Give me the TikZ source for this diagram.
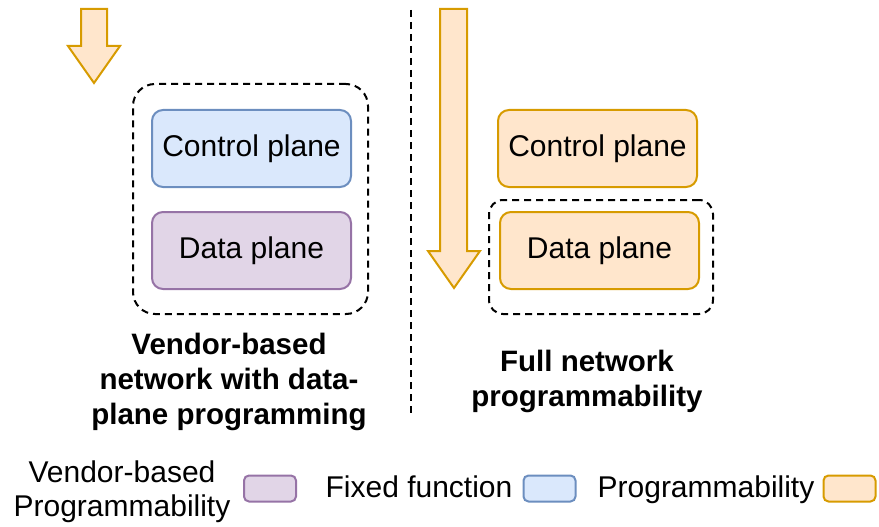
\documentclass[tikz,border=0pt]{standalone}
\usepackage{fontspec}
\setmainfont{Liberation Sans}
\definecolor{bluefill}{HTML}{DAE8FC}
\definecolor{bluedraw}{HTML}{6C8EBF}
\definecolor{purpfill}{HTML}{E1D5E7}
\definecolor{purpdraw}{HTML}{9673A6}
\definecolor{orfill}{HTML}{FFE6CC}
\definecolor{ordraw}{HTML}{D79B00}
\tikzset{
  plane/.style={rounded corners=11pt, line width=2pt, minimum width=199pt, minimum height=77pt, inner sep=0pt, font=\fontsize{30}{36}\selectfont},
  bluebox/.style={plane, fill=bluefill, draw=bluedraw},
  purpbox/.style={plane, fill=purpfill, draw=purpdraw},
  orbox/.style={plane, fill=orfill, draw=ordraw},
  groupbox/.style={draw=black, line width=2pt, dash pattern=on 7pt off 5pt, rounded corners=22pt, inner sep=0pt},
  blockarrow/.style={fill=orfill, draw=ordraw, line width=2pt, line join=miter},
  divider/.style={draw=black, line width=2pt, dash pattern=on 7pt off 5pt},
  title/.style={font=\fontsize{29.5}{35}\selectfont\bfseries, align=center, inner sep=0pt},
  legtext/.style={font=\fontsize{30}{34}\selectfont, align=center, inner sep=0pt},
  swatch/.style={rounded corners=5pt, line width=2pt, minimum width=52pt, minimum height=26pt, inner sep=0pt}
}
\begin{document}
\begin{tikzpicture}[x=1pt,y=-1pt]
\useasboundingbox (0,0) rectangle (879,527);
% left group
\node[groupbox, minimum width=235pt, minimum height=230pt] (lgroup) at (250.5,199) {};
\node[bluebox] (lcp) at (251.5,148.5) {Control plane};
\node[purpbox] (ldp) at (251.5,250.5) {Data plane};
% left arrow
\draw[blockarrow] (81,9) -- (107,9) -- (107,46) -- (120,46) -- (94,83) -- (68,46) -- (81,46) -- cycle;
% divider
\coordinate (dtop) at (411,10);
\coordinate (dbot) at (411,415);
\draw[divider] (dtop) -- (dbot);
% right arrow
\draw[blockarrow] (440,9) -- (467,9) -- (467,251) -- (480,251) -- (454,288) -- (428,251) -- (440,251) -- cycle;
% right group
\node[groupbox, minimum width=224pt, minimum height=114pt, rounded corners=14pt] (rgroup) at (601,257) {};
\node[orbox] (rcp) at (597.5,148.5) {Control plane};
\node[orbox] (rdp) at (599.5,250.5) {Data plane};
% titles
\node[title] (ltitle) at (229,382) {Vendor-based\\network with data-\\plane programming};
\node[title] (rtitle) at (587,381) {Full network\\programmability};
% legend
\node[legtext] (lg1) at (122,492) {Vendor-based\\Programmability};
\node[swatch, fill=purpfill, draw=purpdraw] (sw1) at (270,488.5) {};
\node[legtext, anchor=base] (lg2) at (419,497) {Fixed function};
\node[swatch, fill=bluefill, draw=bluedraw] (sw2) at (549.5,488.5) {};
\node[legtext, anchor=base] (lg3) at (706,497) {Programmability};
\node[swatch, fill=orfill, draw=ordraw] (sw3) at (849.5,488.5) {};
\end{tikzpicture}
\end{document}
